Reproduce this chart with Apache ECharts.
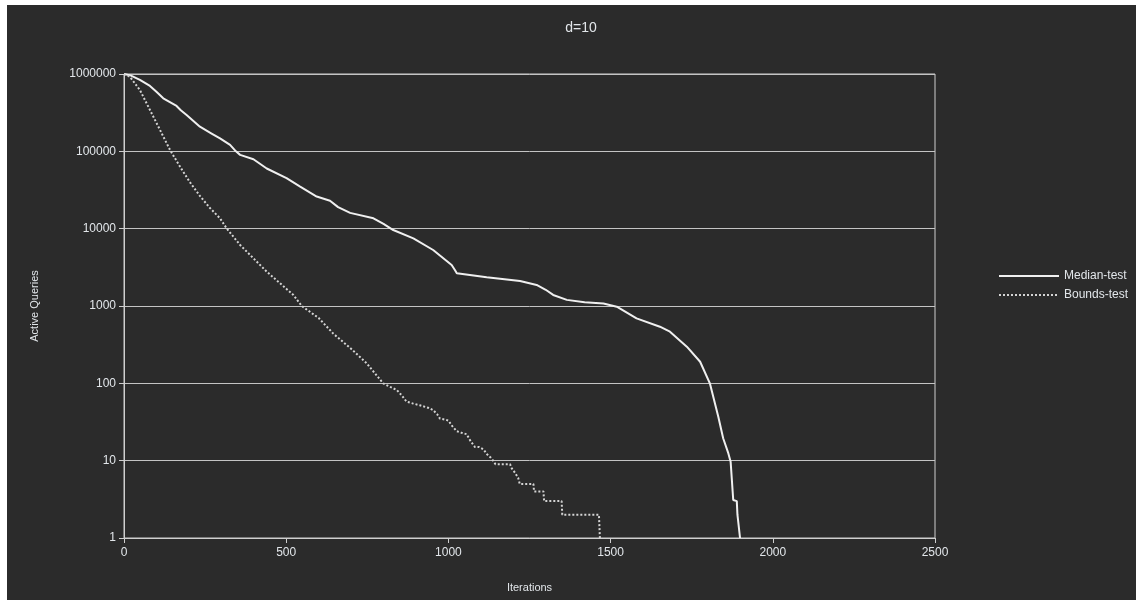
<!DOCTYPE html>
<html>
<head>
<meta charset="utf-8">
<title>d=10</title>
<script src="https://cdn.jsdelivr.net/npm/echarts@6/dist/echarts.min.js"></script>
<style>
  html, body { margin: 0; padding: 0; background: #ffffff; }
  #chart { position: absolute; left: 7px; top: 5px; width: 1129px; height: 595px; background: #2b2b2b; }
</style>
</head>
<body>
<div id="chart"></div>
<script>
// Number of queries still active after each iteration (log scale)
const chartTitle = 'd=10';
const xAxisName = 'Iterations';
const yAxisName = 'Active Queries';
const xTicks = [0, 500, 1000, 1500, 2000, 2500];
const yTicks = [1, 10, 100, 1000, 10000, 100000, 1000000];

const medianName = 'Median-test';
const medianIter = [0, 20, 49, 80, 100, 121, 162, 175, 193, 234, 270, 296, 327, 345, 358, 399, 440, 501, 543, 594, 635, 660, 697, 769, 800, 830, 892, 953, 1010, 1020, 1026, 1118, 1221, 1272, 1300, 1323, 1365, 1420, 1478, 1519, 1580, 1652, 1683, 1735, 1776, 1806, 1832, 1847, 1863, 1870, 1878, 1889, 1891, 1897, 1899];
const medianActive = [1000000, 960000, 840000, 700000, 590000, 485000, 386000, 340000, 295000, 208000, 170000, 147000, 121000, 100000, 90000, 79000, 60000, 45000, 35000, 26000, 23000, 19000, 16000, 13600, 11500, 9600, 7500, 5300, 3390, 2920, 2650, 2350, 2100, 1870, 1620, 1390, 1200, 1120, 1080, 980, 693, 540, 466, 298, 190, 100, 37, 19.5, 12.4, 9.7, 3.1, 3, 2, 2, 1];

const boundsName = 'Bounds-test';
const boundsIter = [0, 18, 49, 80, 111, 142, 173, 203, 234, 265, 296, 317, 358, 399, 440, 481, 522, 548, 600, 645, 700, 748, 769, 799, 820, 841, 856, 871, 890, 912, 940, 953, 965, 974, 990, 1000, 1012, 1026, 1040, 1056, 1068, 1082, 1095, 1108, 1120, 1130, 1138, 1145, 1190, 1195, 1205, 1215, 1220, 1262, 1264, 1293, 1295, 1349, 1351, 1464, 1467];
const boundsActive = [1000000, 923000, 621000, 343000, 189000, 104000, 63000, 40000, 26500, 18500, 13600, 10000, 6150, 4140, 2780, 1970, 1390, 1000, 700, 440, 280, 182, 142, 100, 90, 82, 70, 58, 55, 52, 48, 45, 40, 35, 34, 33, 28, 24, 23, 22, 18, 15, 15, 14, 12, 11, 10, 9, 9, 8, 7, 6, 5, 5, 4, 4, 3, 3, 2, 2, 1];

const pairs = (xs, ys) => xs.map((x, i) => [x, ys[i]]);

const textColor = '#e2e6ea';
const lineColor = '#cfcfcf';
const font = 'Liberation Sans, Arial, sans-serif';

const chart = echarts.init(document.getElementById('chart'));
chart.setOption({
  backgroundColor: '#2b2b2b',
  animation: false,
  title: {
    text: chartTitle,
    left: 569, top: 11, textAlign: 'center',
    textStyle: { color: textColor, fontSize: 14, fontWeight: 'normal', fontFamily: font }
  },
  grid: {
    left: 117, right: 201, top: 69, bottom: 62,
    show: true, borderColor: lineColor, borderWidth: 1, backgroundColor: 'transparent'
  },
  legend: {
    orient: 'vertical',
    left: 986, top: 260,
    itemWidth: 60, itemHeight: 14, itemGap: 7,
    itemStyle: { opacity: 0 },
    textStyle: { color: textColor, fontSize: 12, fontFamily: font },
    data: [medianName, boundsName]
  },
  xAxis: {
    type: 'value', min: xTicks[0], max: xTicks[xTicks.length - 1], interval: 500,
    name: xAxisName, nameLocation: 'middle', nameGap: 44,
    nameTextStyle: { color: textColor, fontSize: 11, fontFamily: font },
    axisLine: { lineStyle: { color: lineColor, width: 1 } },
    axisTick: { show: true, length: 5, lineStyle: { color: lineColor } },
    axisLabel: { color: textColor, fontSize: 12, fontFamily: font, margin: 9, formatter: v => String(v) },
    splitLine: { show: false }
  },
  yAxis: {
    type: 'log', logBase: 10, min: yTicks[0], max: yTicks[yTicks.length - 1],
    name: yAxisName, nameLocation: 'middle', nameGap: 84,
    nameTextStyle: { color: textColor, fontSize: 11, fontFamily: font },
    axisLine: { show: true, lineStyle: { color: lineColor, width: 1 } },
    axisTick: { show: true, length: 5, lineStyle: { color: lineColor } },
    axisLabel: { color: textColor, fontSize: 12, fontFamily: font, margin: 8, formatter: v => String(Math.round(v)) },
    splitLine: { show: true, lineStyle: { color: '#c4c4c4', width: 1 } },
    minorTick: { show: false }
  },
  series: [
    {
      name: medianName, type: 'line', symbol: 'none',
      data: pairs(medianIter, medianActive),
      lineStyle: { color: '#f0f0f0', width: 2 },
      itemStyle: { color: '#f0f0f0' }
    },
    {
      name: boundsName, type: 'line', symbol: 'none',
      data: pairs(boundsIter, boundsActive),
      lineStyle: { color: '#d4d4d4', width: 2, type: [2, 2] },
      itemStyle: { color: '#d4d4d4' }
    }
  ]
});
</script>
</body>
</html>
